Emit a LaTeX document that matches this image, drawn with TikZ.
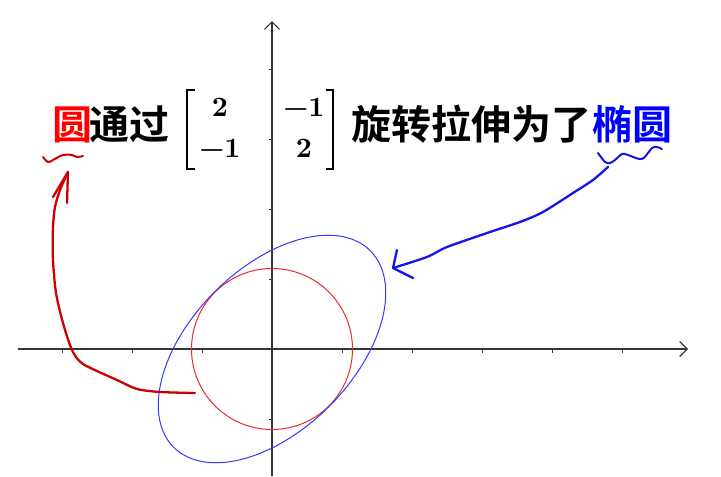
\documentclass[tikz,border=0pt]{standalone}
\usepackage{fontspec}
\newfontfamily\cjk{Noto Sans CJK SC Bold}
\newfontfamily\matfont{lmroman10-bold.otf}
\usetikzlibrary{arrows.meta}
\definecolor{axisgray}{RGB}{55,55,55}
\definecolor{circred}{RGB}{225,45,45}
\definecolor{ellblue}{RGB}{55,55,255}
\definecolor{penred}{RGB}{205,0,0}
\definecolor{penblue}{RGB}{20,20,240}
\begin{document}
\begin{tikzpicture}[x=1pt,y=-1pt,
  axis/.style={draw=axisgray,line width=1.2pt,-{Straight Barb[length=7.5pt,width=15pt,line width=1.2pt]}},
  tickmark/.style={draw=axisgray,line width=1pt},
  pen/.style={line width=2.3pt,line cap=round,line join=round},
  cjktext/.style={inner sep=0pt,anchor=base west,font=\cjk\fontsize{40}{42}\selectfont},
  matentry/.style={inner sep=0pt,anchor=base},
  bracket/.style={draw=black,line width=1.7pt}]
\useasboundingbox (0,0) rectangle (721,477);
% axes
\coordinate (O) at (272,349);
\coordinate (xstart) at (18,349);
\coordinate (xend) at (688,349);
\coordinate (ystart) at (272,476);
\coordinate (yend) at (272,21);
\draw[axis] (xstart) -- (xend);
\draw[axis] (ystart) -- (yend);
\foreach \i in {-3,-2,-1,1,2,3,4,5} \draw[tickmark] (272+70*\i,349) -- ++(0,3.5);
\foreach \i in {-4,-3,-2,-1,1} \draw[tickmark] (272,349+70*\i) -- ++(-3.5,0);
% circle and ellipse
\draw[circred,line width=1pt] (O) circle[radius=80.5];
\draw[ellblue,line width=1pt] plot[domain=0:360,samples=120,smooth]
  ({272+0.7071*(139*cos(\x)-81*sin(\x))},{349-0.7071*(139*cos(\x)+81*sin(\x))}) -- cycle;
% text
\node[cjktext,text=red] (yuan) at (52,139) {圆};
\node[cjktext] (tongguo) at (89,139) {通过};
\node[matentry] (m11) at (220,116) {\matfont\fontsize{28}{30}\selectfont 2};
\node[matentry] (m12) at (304,116) {\matfont\fontsize{28}{30}\selectfont −1};
\node[matentry] (m21) at (220,157) {\matfont\fontsize{28}{30}\selectfont −1};
\node[matentry] (m22) at (304,157) {\matfont\fontsize{28}{30}\selectfont 2};
\draw[bracket] (195,90) -- (187,90) -- (187,169) -- (195,169);
\draw[bracket] (326,90) -- (333,90) -- (333,169) -- (326,169);
\node[cjktext] (xuanzhuan) at (351,139) {旋转拉伸为了};
\node[cjktext,text=blue] (tuoyuan) at (592,139) {椭圆};
% red hand-drawn arrow and squiggle
\coordinate (redstart) at (195,393);
\coordinate (redtip) at (68,172);
\draw[pen,penred] plot[smooth,tension=0.45] coordinates {(redstart) (160,392) (137,389) (117,380) (83,364) (72,350) (63,323) (56,293) (53,260) (53,227) (55,207) (60,190) (redtip)};
\draw[pen,penred] (53,197) -- (redtip) -- (67,203);
\draw[pen,penred,line width=2pt] plot[smooth,tension=0.6] coordinates {(43,157) (48,162) (53,160) (63,155) (72,155) (77,157) (83,156)};
% blue hand-drawn arrow and squiggle
\coordinate (bluestart) at (608,167);
\coordinate (bluetip) at (393,268);
\draw[pen,penblue] plot[smooth,tension=0.45] coordinates {(bluestart) (593,180) (573,193) (543,212) (520,222) (490,232) (447,247) (427,257) (bluetip)};
\draw[pen,penblue] (397,250) -- (bluetip) -- (413,278);
\draw[pen,penblue,line width=2pt] plot[smooth,tension=0.5] coordinates {(598,153) (605,162) (610,163) (615,160) (622,154) (628,155) (642,159) (652,148) (657,147) (662,149)};
\end{tikzpicture}
\end{document}
